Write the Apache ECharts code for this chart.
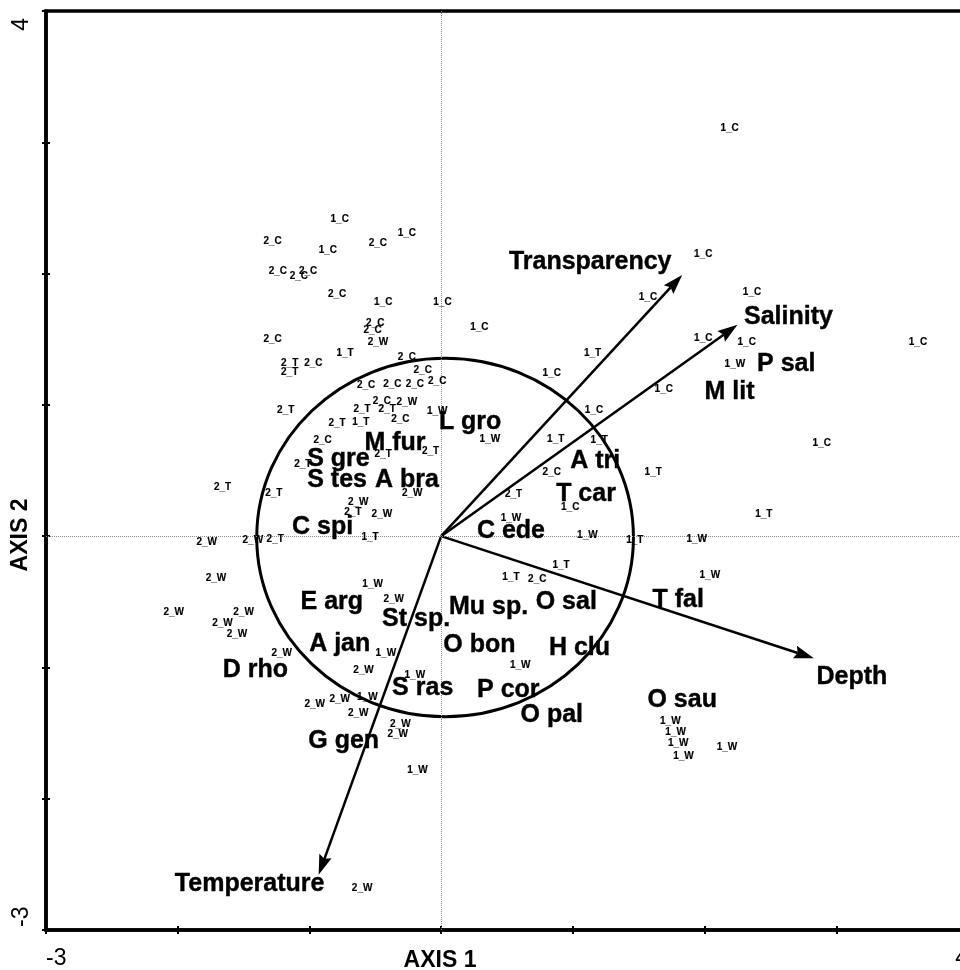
<!DOCTYPE html>
<html>
<head>
<meta charset="utf-8">
<script src="https://cdn.jsdelivr.net/npm/echarts@6/dist/echarts.min.js"></script>
<style>
html,body{margin:0;padding:0;background:#fff;}
#chart{width:960px;height:970px;}
</style>
</head>
<body>
<div id="chart"></div>
<script>
// ---------- data (ordination scores) ----------
const axisMin = -3;
const axisMax = 4;
const tickLabelsX = [-3, 4];
const tickLabelsY = [-3, 4];

// samples (sites): [axis1, axis2]
const site1C = [[-0.77,2.41],[-0.86,2.18],[-0.26,2.31],[-0.44,1.78],[0.01,1.78],[0.29,1.59],[0.84,1.24],[1.16,0.96],[0.98,0.22],[2.19,3.11],[1.99,2.15],[2.36,1.86],[1.57,1.82],[1.99,1.51],[2.32,1.48],[3.62,1.48],[1.69,1.12],[2.89,0.71]];
const site2C = [[-1.28,2.25],[-0.48,2.23],[-1.24,2.02],[-1.08,1.98],[-1.01,2.02],[-0.79,1.84],[-1.28,1.50],[-0.50,1.62],[-0.52,1.57],[-0.97,1.32],[-0.26,1.36],[-0.14,1.26],[-0.57,1.15],[-0.37,1.16],[-0.20,1.16],[-0.03,1.18],[-0.45,1.03],[-0.31,0.89],[-0.90,0.73],[0.84,0.49],[0.73,-0.33]];
const site1T = [[-0.73,1.39],[-0.61,0.87],[-0.54,-0.01],[1.15,1.39],[0.87,0.74],[1.20,0.73],[1.61,0.49],[1.47,-0.03],[2.45,0.17],[0.91,-0.22],[0.53,-0.31]];
const site2T = [[-1.15,1.32],[-1.15,1.25],[-1.18,0.96],[-0.60,0.97],[-0.41,0.97],[-0.79,0.86],[-0.08,0.65],[-0.44,0.62],[-1.05,0.55],[-1.66,0.37],[-1.27,0.33],[-0.67,0.18],[-1.26,-0.02],[0.55,0.32]];
const site1W = [[-0.03,0.95],[0.37,0.74],[0.53,0.14],[1.11,0.01],[1.94,-0.02],[2.04,-0.30],[2.23,1.31],[-0.52,-0.37],[-0.42,-0.89],[-0.20,-1.06],[-0.56,-1.23],[-0.18,-1.78],[0.60,-0.98],[1.74,-1.41],[1.78,-1.49],[1.80,-1.58],[1.84,-1.68],[2.17,-1.61]];
const site2W = [[-0.48,1.48],[-0.26,1.02],[-0.22,0.33],[-0.63,0.26],[-0.45,0.17],[-1.78,-0.05],[-1.43,-0.03],[-1.71,-0.32],[-0.36,-0.48],[-2.03,-0.58],[-1.50,-0.58],[-1.66,-0.66],[-1.55,-0.75],[-1.21,-0.89],[-0.59,-1.02],[-0.77,-1.24],[-0.96,-1.28],[-0.63,-1.35],[-0.31,-1.43],[-0.33,-1.51],[-0.60,-2.68]];

// species
const speciesNames = ['L gro','M fur','S gre','S tes','A bra','C spi','A tri','T car','C ede','P sal','M lit','E arg','St sp.','Mu sp.','O sal','T fal','A jan','O bon','H clu','D rho','S ras','P cor','O pal','O sau','G gen'];
const speciesX = [0.22,-0.35,-0.78,-0.79,-0.26,-0.90,1.17,1.10,0.53,2.62,2.19,-0.83,-0.19,0.36,0.95,1.80,-0.77,0.29,1.05,-1.41,-0.14,0.51,0.84,1.83,-0.74];
const speciesY = [0.87,0.71,0.59,0.43,0.43,0.07,0.57,0.32,0.04,1.31,1.10,-0.50,-0.63,-0.54,-0.50,-0.49,-0.82,-0.83,-0.85,-1.02,-1.16,-1.17,-1.36,-1.25,-1.56];

// environmental vectors (arrow tips)
const envNames = ['Transparency','Salinity','Depth','Temperature'];
const envX = [1.83, 2.25, 2.83, -0.93];
const envY = [1.99, 1.61, -0.93, -2.58];

// equilibrium circle: centre and radii in axis units
const circleCentre = [0.03, -0.01];
const circleRadius = [1.43, 1.365];

// ---------- styling ----------
const FONT = '"Liberation Sans", Arial, Helvetica, sans-serif';
const envLabelOffsets = {
  'Transparency': [-92, -13],
  'Salinity': [51, -8],
  'Depth': [38, 19],
  'Temperature': [-69, 9]
};
const bigLabel = { show: true, position: 'inside', formatter: '{b}', fontSize: 25, fontWeight: 'bold', color: '#000', opacity: 1, fontFamily: FONT, textBorderColor: '#000', textBorderWidth: 0.4 };

function siteSeries(name, pts) {
  return {
    type: 'scatter', name: name, data: pts, symbolSize: 0, silent: true, z: 6,
    itemStyle: { opacity: 1 },
    label: { show: true, position: 'inside', formatter: name, fontSize: 10, fontWeight: 'bold', color: '#000', opacity: 1, fontFamily: FONT, textBorderColor: '#000', textBorderWidth: 0.15 }
  };
}

const chart = echarts.init(document.getElementById('chart'), null, { renderer: 'canvas' });

const axisCommon = {
  type: 'value', min: axisMin, max: axisMax, interval: 1,
  splitLine: { show: false }
};

const option = {
  animation: false,
  backgroundColor: '#fff',
  textStyle: { fontFamily: FONT, color: '#000' },
  grid: { left: 46, top: 11, width: 922, height: 919, containLabel: false, outerBoundsMode: 'none', show: true, borderColor: '#000', borderWidth: 3.5, backgroundColor: 'transparent' },
  xAxis: [
    Object.assign({}, axisCommon, {
      position: 'bottom',
      axisLine: { show: true, onZero: false, lineStyle: { color: '#000', width: 3.5 } },
      axisTick: { show: true, length: 4, lineStyle: { color: '#000', width: 2 } },
      axisLabel: {
        show: true, margin: 17, fontSize: 23, color: '#000', fontFamily: FONT,
        alignMinLabel: 'left', alignMaxLabel: 'right',
        formatter: v => tickLabelsX.indexOf(v) >= 0 ? String(v) : ''
      },
      name: 'AXIS 1', nameLocation: 'middle', nameGap: 19, nameMoveOverlap: false,
      nameTextStyle: { fontSize: 23, fontWeight: 'bold', color: '#000', fontFamily: FONT, verticalAlign: 'top', padding: [0, 134, 0, 0] }
    }),
    Object.assign({}, axisCommon, {
      position: 'bottom',
      axisLine: { show: false, onZero: false },
      axisTick: { show: true, inside: true, length: 4, lineStyle: { color: '#000', width: 2 } },
      axisLabel: { show: false }
    })
  ],
  yAxis: [
    Object.assign({}, axisCommon, {
      position: 'left',
      axisLine: { show: true, onZero: false, lineStyle: { color: '#000', width: 3.5 } },
      axisTick: { show: true, length: 4, lineStyle: { color: '#000', width: 2 } },
      axisLabel: {
        show: true, rotate: 90, margin: 13, fontSize: 23, color: '#000', fontFamily: FONT,
        alignMinLabel: 'left', alignMaxLabel: 'right',
        formatter: v => v === axisMax ? '{top|' + v + '}' : (v === axisMin ? '{bot|' + v + '}' : ''),
        rich: {
          top: { fontSize: 23, color: '#000', fontFamily: FONT, padding: [0, 7, 0, 0] },
          bot: { fontSize: 23, color: '#000', fontFamily: FONT, padding: [0, 0, 0, 3] }
        }
      },
      name: 'AXIS 2', nameLocation: 'middle', nameGap: 14, nameRotate: 90, nameMoveOverlap: false,
      nameTextStyle: { fontSize: 23, fontWeight: 'bold', color: '#000', fontFamily: FONT, padding: [0, 129, 0, 0] }
    }),
    Object.assign({}, axisCommon, {
      position: 'left',
      axisLine: { show: false, onZero: false },
      axisTick: { show: true, inside: true, length: 4, lineStyle: { color: '#000', width: 2 } },
      axisLabel: { show: false }
    })
  ],
  series: [
    // equilibrium circle + zero lines
    {
      type: 'custom', name: 'circle', silent: true, z: 3,
      data: [[circleCentre[0], circleCentre[1], circleRadius[0], circleRadius[1]]],
      renderItem: function (params, api) {
        const c = api.coord([api.value(0), api.value(1)]);
        const s = api.size([api.value(2), api.value(3)]);
        return { type: 'ellipse', shape: { cx: c[0], cy: c[1], rx: s[0], ry: s[1] }, style: { fill: null, stroke: '#000', lineWidth: 3 } };
      },
      markLine: {
        silent: true, symbol: 'none', label: { show: false },
        lineStyle: { type: 'dotted', color: '#8a8a8a', width: 1 },
        data: [{ xAxis: 0 }, { yAxis: 0 }]
      }
    },
    // environmental arrows
    {
      type: 'custom', name: 'arrows', silent: true, z: 4,
      data: envX.map((x, i) => [x, envY[i]]),
      renderItem: function (params, api) {
        const o = api.coord([0, 0]);
        const t = api.coord([api.value(0), api.value(1)]);
        const dx = t[0] - o[0], dy = t[1] - o[1];
        const L = Math.hypot(dx, dy);
        const ux = dx / L, uy = dy / L, px = -uy, py = ux;
        const hl = 20, hw = 6.5, notch = 3;
        const bx = t[0] - ux * hl, by = t[1] - uy * hl;
        const nx = t[0] - ux * (hl - notch), ny = t[1] - uy * (hl - notch);
        return {
          type: 'group', children: [
            { type: 'line', shape: { x1: o[0], y1: o[1], x2: nx, y2: ny }, style: { stroke: '#000', lineWidth: 2.5 } },
            { type: 'polygon', shape: { points: [[t[0], t[1]], [bx + px * hw, by + py * hw], [nx, ny], [bx - px * hw, by - py * hw]] }, style: { fill: '#000' } }
          ]
        };
      }
    },
    // environmental labels
    {
      type: 'scatter', name: 'env', symbolSize: 0, silent: true, z: 7,
      itemStyle: { opacity: 1 },
      data: envNames.map((n, i) => ({
        value: [envX[i], envY[i]], name: n,
        label: { offset: envLabelOffsets[n] }
      })),
      label: bigLabel
    },
    // species
    {
      type: 'scatter', name: 'species', symbolSize: 0, silent: true, z: 7,
      itemStyle: { opacity: 1 },
      data: speciesNames.map((n, i) => ({ value: [speciesX[i], speciesY[i]], name: n })),
      label: bigLabel
    },
    siteSeries('1_C', site1C),
    siteSeries('2_C', site2C),
    siteSeries('1_T', site1T),
    siteSeries('2_T', site2T),
    siteSeries('1_W', site1W),
    siteSeries('2_W', site2W)
  ]
};

chart.setOption(option);
</script>
</body>
</html>
